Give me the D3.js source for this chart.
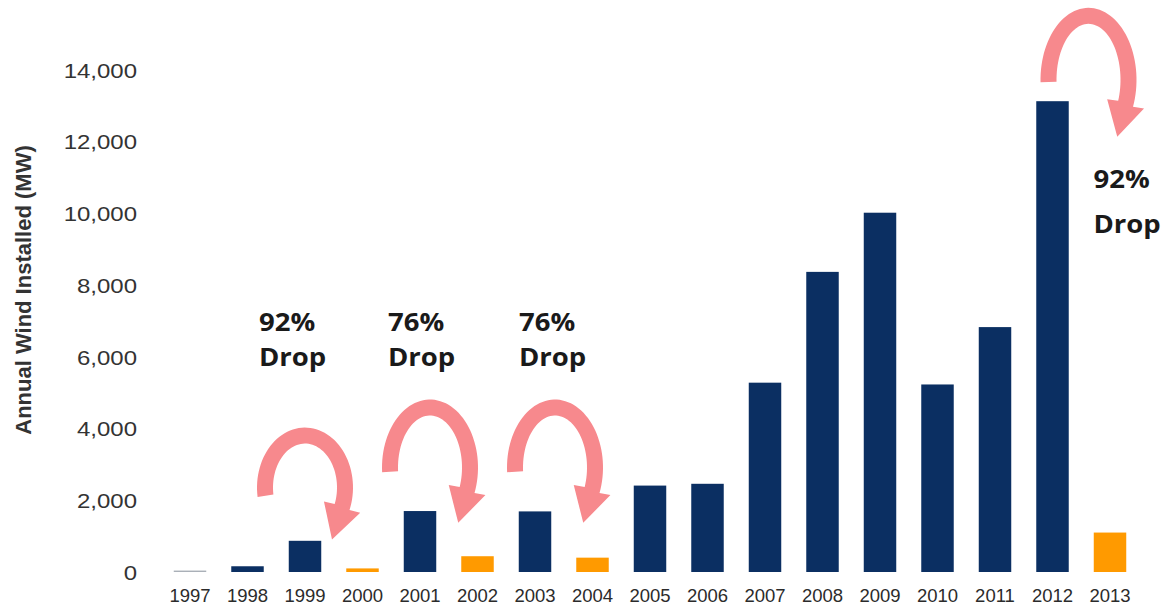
<!DOCTYPE html>
<html>
<head>
<meta charset="utf-8">
<script src="https://cdn.jsdelivr.net/npm/d3@7"></script>
<style>
  html, body { margin: 0; padding: 0; background: #fff; }
  svg { display: block; }
</style>
</head>
<body>
<svg id="chart" width="1166" height="612"></svg>
<script>
// ---- data ----
const years = ['1997','1998','1999','2000','2001','2002','2003','2004','2005','2006','2007','2008','2009','2010','2011','2012','2013'];
const installedMW = [40, 160, 870, 100, 1700, 440, 1690, 400, 2410, 2460, 5280, 8370, 10020, 5230, 6830, 13130, 1100];
const dropYears = ['2000','2002','2004','2013'];
const yTicks = [0, 2000, 4000, 6000, 8000, 10000, 12000, 14000];
const dropFromYears = ['1999','2001','2003','2012'];
const dropPercents = ['92%','76%','76%','92%'];
const yTitle = 'Annual Wind Installed (MW)';

// ---- layout ----
const svg = d3.select('#chart');
const x = d3.scaleBand().domain(years).range([161.25, 1138.75]).paddingInner(0.435).paddingOuter(0.2175);
const y = d3.scaleLinear().domain([0, 14000]).range([572, 70]);

const NAVY = '#0b2f62', ORANGE = '#ff9a00', GRAY = '#aab0b8', PINK = '#f7898d';

// bars
svg.append('g').selectAll('rect').data(years).join('rect')
  .attr('x', d => x(d))
  .attr('width', x.bandwidth())
  .attr('y', (d, i) => y(installedMW[i]))
  .attr('height', (d, i) => y(0) - y(installedMW[i]))
  .attr('fill', (d, i) => i === 0 ? GRAY : (dropYears.includes(d) ? ORANGE : NAVY));

// y axis (labels only)
const yAxis = svg.append('g').attr('transform', 'translate(140,0)')
  .call(d3.axisLeft(y).tickValues(yTicks).tickFormat(d3.format(',')).tickSize(0).tickPadding(0));
yAxis.select('.domain').remove();
yAxis.selectAll('text')
  .attr('font-family', '"Liberation Sans", Arial, sans-serif')
  .attr('font-size', 20).attr('fill', '#333')
  .attr('x', -3 / 1.2).attr('dy', '0.36em')
  .attr('transform', 'scale(1.2,1)');

// x axis (labels only)
const xAxis = svg.append('g').attr('transform', `translate(0,${y(0)})`)
  .call(d3.axisBottom(x).tickSize(0).tickPadding(0));
xAxis.select('.domain').remove();
xAxis.selectAll('text')
  .attr('font-family', '"Liberation Sans", Arial, sans-serif')
  .attr('font-size', 18.5).attr('fill', '#2b2b2b')
  .attr('y', 30).attr('dy', 0);

// y title
svg.append('text')
  .attr('transform', 'translate(30.5,290) rotate(-90)')
  .attr('text-anchor', 'middle')
  .attr('font-family', '"Liberation Sans", Arial, sans-serif')
  .attr('font-weight', 'bold').attr('font-size', 22).attr('fill', '#333')
  .text(yTitle);

// ---- annotations: curved drop arrows ----
// cx offset from the bar centre, vertical centre (in MW units), vertical radius, tail angle below horizontal (deg)
const arrowLayout = [
  { dx: 0, cyVal: 2355, ry: 52, tailDeg: 9 },
  { dx: 10, cyVal: 2913, ry: 60, tailDeg: 4 },
  { dx: 20, cyVal: 2913, ry: 60, tailDeg: 4 },
  { dx: 36, cyVal: 13725, ry: 64, tailDeg: 2 }
];
const RX = 40, HALF = 8, HEAD_LEN = 34, HEAD_HALF = 19, END_DEG = 22;
function arrowPath(cx, cy, ry, tailDeg) {
  const rad = Math.PI / 180;
  const a0 = (180 - tailDeg) * rad, a1 = (360 + END_DEG) * rad;
  const n = 60;
  const outer = [], inner = [];
  for (let k = 0; k <= n; k++) {
    const t = a0 + (a1 - a0) * k / n;
    outer.push([cx + (RX + HALF) * Math.cos(t), cy + (ry + HALF) * Math.sin(t)]);
    inner.push([cx + (RX - HALF) * Math.cos(t), cy + (ry - HALF) * Math.sin(t)]);
  }
  const base = [cx + RX * Math.cos(a1), cy + ry * Math.sin(a1)];
  let tx = -RX * Math.sin(a1), ty = ry * Math.cos(a1);
  const tl = Math.hypot(tx, ty); tx /= tl; ty /= tl;
  const px = -ty, py = tx; // perpendicular (pointing outward / right)
  const barbOut = [base[0] - px * HEAD_HALF, base[1] - py * HEAD_HALF];
  const barbIn = [base[0] + px * HEAD_HALF, base[1] + py * HEAD_HALF];
  const tip = [base[0] + tx * HEAD_LEN, base[1] + ty * HEAD_LEN];
  const pts = outer.concat([barbOut, tip, barbIn], inner.reverse());
  return d3.line()(pts) + 'Z';
}
svg.append('g').selectAll('path').data(dropFromYears).join('path')
  .attr('d', (yr, i) => {
    const L = arrowLayout[i];
    return arrowPath(x(yr) + x.bandwidth() / 2 + L.dx, y(L.cyVal), L.ry, L.tailDeg);
  })
  .attr('fill', PINK);

// drop labels
const labelLayout = [
  { dx: -46, b1: 331.5, b2: 366.5 },
  { dx: -32, b1: 331.5, b2: 366.5 },
  { dx: -16, b1: 331.5, b2: 366.5 },
  { dx: 41, b1: 188, b2: 233 }
];
const labels = svg.append('g')
  .attr('font-family', '"Open Sans", "Noto Sans", sans-serif')
  .attr('font-weight', 'bold').attr('font-size', 25).attr('fill', '#1a1a1a');
dropFromYears.forEach((yr, i) => {
  const L = labelLayout[i];
  const lx = x(yr) + x.bandwidth() / 2 + L.dx;
  const g = labels.append('g').attr('transform', `translate(${lx},0) scale(1.1,1)`);
  g.append('text').attr('x', 0).attr('y', L.b1).text(dropPercents[i]);
  g.append('text').attr('x', 0).attr('y', L.b2).text('Drop');
});
</script>
</body>
</html>
